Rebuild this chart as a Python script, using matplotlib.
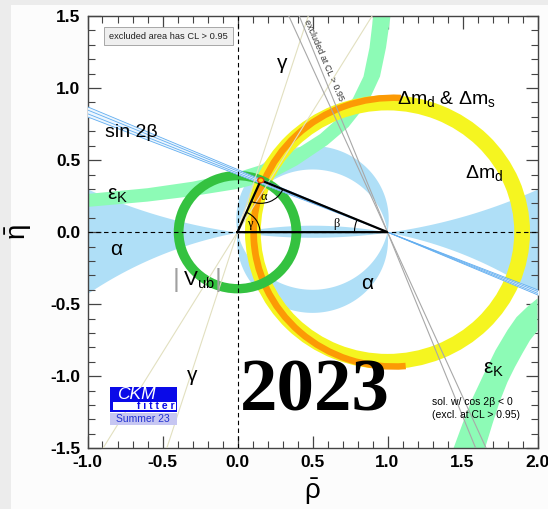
import numpy as np
import matplotlib.pyplot as plt
from matplotlib.patches import Wedge, Polygon, Arc, Rectangle, Ellipse
from matplotlib.ticker import MultipleLocator, FormatStrFormatter

plt.rcParams['font.family'] = ['Liberation Sans', 'DejaVu Sans']
plt.rcParams['mathtext.fontset'] = 'custom'
plt.rcParams['mathtext.rm'] = 'Liberation Sans'
plt.rcParams['mathtext.it'] = 'Liberation Sans:italic'
plt.rcParams['mathtext.bf'] = 'Liberation Sans:bold'
plt.rcParams['axes.unicode_minus'] = False

# fitted apex of the unitarity triangle
apex = (0.155, 0.36)

# |Vub| ring around the origin (inner, outer radius)
vub_radii = (0.36, 0.425)
# Delta m_d ring, Delta m_d & Delta m_s ring (centre, radii, angular span)
dmd_center, dmd_radii = (1.0, 0.0), (0.845, 0.95)
dms_center, dms_radii, dms_span = (1.04, 0.0), (0.91, 0.955), (87, 275)

# alpha: circles through (0,0) and (1,0) with centre (0.5, yc)
alpha_far_yc = (3.483, -2.565)    # near-flat solutions (wedges + thin lens)
alpha_up_yc = (0.09, -0.07)       # upper arc band (outer, inner)
alpha_low_yc = (-0.057, 0.1125)   # lower arc band (outer, inner)

# slopes of the lines through (1,0) and (0,0)
sin2b_slopes = [0.400, 0.411, 0.424, 0.435]
cos2b_slopes = [2.28, 2.55]
gamma_slopes = [1.672, 3.18]

# epsilon_K band, upper-left branch
epsk_lo_rho = [-1.00, -0.60, -0.30, 0.00, 0.20, 0.40, 0.60, 0.74, 0.87, 0.95, 0.99, 1.02]
epsk_lo_eta = [0.175, 0.212, 0.25, 0.30, 0.355, 0.465, 0.605, 0.73, 0.90, 1.08, 1.28, 1.50]
epsk_hi_rho = [-1.00, -0.60, -0.30, 0.00, 0.20, 0.40, 0.55, 0.68, 0.77, 0.84, 0.88, 0.905]
epsk_hi_eta = [0.265, 0.305, 0.35, 0.415, 0.48, 0.58, 0.68, 0.80, 0.93, 1.08, 1.28, 1.50]
# epsilon_K band, lower-right branch
epsk2_a_rho = [1.44, 1.50, 1.56, 1.64, 1.72, 1.80, 1.86, 1.93, 2.00]
epsk2_a_eta = [-1.50, -1.33, -1.167, -0.99, -0.82, -0.68, -0.59, -0.52, -0.46]
epsk2_b_rho = [1.65, 1.70, 1.75, 1.80, 1.85, 1.90, 1.95, 2.00]
epsk2_b_eta = [-1.50, -1.33, -1.17, -1.04, -0.935, -0.84, -0.75, -0.685]

c_alpha = '#afdff7'
c_epsk = '#8dfbb6'
c_vub = '#34c240'
c_dmd = '#f5f520'
c_dms = '#fc9a05'
c_s2b = '#62aef0'


def circ_arc(yc, upper, n=200):
    # arc of the circle through (0,0) and (1,0) centred at (0.5, yc)
    r = np.hypot(0.5, yc)
    t0 = np.arctan2(-yc, 0.5)
    if upper:
        t = np.linspace(t0, np.pi - t0, n)
    else:
        t = np.linspace(np.pi - t0, 2 * np.pi + t0, n)
    return 0.5 + r * np.cos(t), yc + r * np.sin(t)


fig = plt.figure(figsize=(5.48, 5.09), dpi=100, facecolor='#ececec')
fig.add_artist(Rectangle((11 / 548, 0), 1, 1 - 5 / 509, transform=fig.transFigure,
                         fc='#fcfcfc', ec='none', zorder=-10))
ax = fig.add_axes([87.5 / 548, 1 - 448.3 / 509, 450 / 548, 432.3 / 509])

# alpha
rho = np.concatenate([np.linspace(-1.05, 0, 200), np.linspace(0, 1, 200)[1:],
                      np.linspace(1, 2.05, 200)[1:]])
yu, yl = alpha_far_yc
eta_u = yu - np.sqrt(yu ** 2 + 0.25 - (rho - 0.5) ** 2)
eta_l = yl + np.sqrt(yl ** 2 + 0.25 - (rho - 0.5) ** 2)
ax.fill_between(rho, eta_l, eta_u, color=c_alpha, lw=0, zorder=1)
for (yo, yi), up in [(alpha_up_yc, True), (alpha_low_yc, False)]:
    xo, eo = circ_arc(yo, up)
    xi, ei = circ_arc(yi, up)
    ax.add_patch(Polygon(np.column_stack([np.r_[xo, xi[::-1]], np.r_[eo, ei[::-1]]]),
                         closed=True, fc=c_alpha, ec='none', zorder=1))

# epsilon_K
ax.add_patch(Polygon(np.column_stack([epsk_lo_rho + epsk_hi_rho[::-1],
                                      epsk_lo_eta + epsk_hi_eta[::-1]]),
                     closed=True, fc=c_epsk, ec='none', zorder=2))
ax.add_patch(Polygon(np.column_stack([epsk2_a_rho + epsk2_b_rho[::-1],
                                      epsk2_a_eta + epsk2_b_eta[::-1]]),
                     closed=True, fc=c_epsk, ec='none', zorder=2))

# Delta m_d, Delta m_s
ax.add_patch(Wedge(dmd_center, dmd_radii[1], 0, 360, width=dmd_radii[1] - dmd_radii[0],
                   fc=c_dmd, ec='none', zorder=3))
ax.add_patch(Wedge(dms_center, dms_radii[1], dms_span[0], dms_span[1],
                   width=dms_radii[1] - dms_radii[0], fc=c_dms, ec='none', zorder=4))

# |Vub|
ax.add_patch(Wedge((0, 0), vub_radii[1], 0, 360, width=vub_radii[1] - vub_radii[0],
                   fc=c_vub, ec='none', zorder=5))

# sin 2beta
xs = np.array([-1.05, 2.05])
ax.fill_between(xs, -sin2b_slopes[0] * (xs - 1), -sin2b_slopes[-1] * (xs - 1),
                color='#edf6fe', lw=0, zorder=6)
for s in sin2b_slopes:
    ax.plot(xs, -s * (xs - 1), color=c_s2b, lw=0.6, zorder=6)

# gamma and the excluded cos 2beta < 0 solution
for s in gamma_slopes:
    ax.plot(xs, s * xs, color='#e2e0c0', lw=0.8, zorder=6)
for s in cos2b_slopes:
    ax.plot(xs, -s * (xs - 1), color='#a8a8a8', lw=0.8, zorder=6)

ax.axvline(0, color='k', ls='--', lw=0.8, dashes=(4, 3), zorder=7)
ax.axhline(0, color='k', ls='--', lw=0.8, dashes=(4, 3), zorder=7)

# unitarity triangle
tri_x = [0, 1, apex[0], 0]
tri_y = [0, 0, apex[1], 0]
ax.plot(tri_x, tri_y, color='k', lw=1.6, zorder=8, solid_joinstyle='miter')
ax.add_patch(Ellipse(apex, 0.04, 0.035, fc='#ffd000', ec='#e8400a', lw=1, zorder=8.5))
a_o = np.degrees(np.arctan2(-apex[1], -apex[0]))
a_b = np.degrees(np.arctan2(-apex[1], 1 - apex[0]))
ax.add_patch(Arc(apex, 0.32, 0.32, theta1=a_o, theta2=a_b, color='k', lw=0.8, zorder=8))
ax.add_patch(Arc((1, 0), 0.44, 0.44, theta1=np.degrees(np.arctan2(apex[1], apex[0] - 1)),
                 theta2=180, color='k', lw=0.8, zorder=8))
ax.add_patch(Arc((0, 0), 0.30, 0.30, theta1=0,
                 theta2=np.degrees(np.arctan2(apex[1], apex[0])), color='k', lw=0.8, zorder=8))
ax.text(0.175, 0.245, 'α', family='Liberation Serif', fontsize=9, ha='center', va='center', zorder=9)
ax.text(0.66, 0.055, 'β', family='Liberation Serif', fontsize=9, ha='center', va='center', zorder=9)
ax.text(0.085, 0.055, 'γ', family='Liberation Serif', fontsize=9, ha='center', va='center', zorder=9)

# constraint labels
tk = dict(zorder=9)
ax.text(-0.71, 0.694, 'sin 2β', fontsize=14, ha='center', va='center', **tk)
ax.text(-0.87, 0.222, 'ε$_{\\mathrm{K}}$', fontsize=15, ha='left', va='baseline', **tk)
ax.text(-0.81, -0.12, 'α', fontsize=15, ha='center', va='center', **tk)
ax.text(-0.41, -0.335, '|', fontsize=19, color='#a0a0a0', ha='center', va='center', **tk)
ax.text(-0.13, -0.335, '|', fontsize=19, color='#a0a0a0', ha='center', va='center', **tk)
ax.text(-0.365, -0.37, 'V$_{\\mathrm{ub}}$', fontsize=15, ha='left', va='baseline', **tk)
ax.text(-0.303, -0.993, 'γ', fontsize=15, ha='center', va='center', **tk)
ax.text(0.297, 1.167, 'γ', fontsize=15, ha='center', va='center', **tk)
ax.text(1.063, 0.889, 'Δm$_{\\mathrm{d}}$ & Δm$_{\\mathrm{s}}$', fontsize=14,
        ha='left', va='baseline', **tk)
ax.text(1.517, 0.375, 'Δm$_{\\mathrm{d}}$', fontsize=14, ha='left', va='baseline', **tk)
ax.text(0.867, -0.354, 'α', fontsize=15, ha='center', va='center', **tk)
ax.text(1.637, -0.979, 'ε$_{\\mathrm{K}}$', fontsize=15, ha='left', va='baseline', **tk)
ax.text(1.297, -1.18, 'sol. w/ cos 2β < 0', fontsize=7.5, ha='left', va='center', **tk)
ax.text(1.297, -1.27, '(excl. at CL > 0.95)', fontsize=7.5, ha='left', va='center', **tk)
ax.text(0.575, 1.19, 'excluded at CL > 0.95', fontsize=6.5, color='#333333', rotation=-66.5,
        rotation_mode='anchor', ha='center', va='center', **tk)
ax.text(-0.46, 1.36, 'excluded area has CL > 0.95', fontsize=6.7, color='#222222',
        ha='center', va='center', zorder=9,
        bbox=dict(boxstyle='square,pad=0.5', fc='#efefef', ec='#9a9a9a', lw=0.6))
ax.text(0.517, -1.11, '2023', family='Liberation Serif', fontweight='bold', fontsize=54,
        ha='center', va='center', zorder=10)

# CKMfitter logo
ax.add_patch(Rectangle((-0.85, -1.248), 0.445, 0.174, fc='#0a0ae8', ec='none', zorder=9))
ax.add_patch(Rectangle((-0.828, -1.232), 0.416, 0.05, fc='white', ec='none', zorder=9))
ax.add_patch(Rectangle((-0.85, -1.340), 0.445, 0.082, fc='#c6c6f2', ec='none', zorder=9))
ax.text(-0.80, -1.127, 'CKM', fontsize=12.5, style='italic', color='white',
        ha='left', va='center', zorder=10)
ax.text(-0.42, -1.209, 'f i t t e r', fontsize=7.5, fontweight='bold', color='#0a0ae8',
        ha='right', va='center', zorder=10)
ax.text(-0.628, -1.30, 'Summer 23', fontsize=7.5, color='#2030d0',
        ha='center', va='center', zorder=10)

ax.set_xlim(-1, 2)
ax.set_ylim(-1.5, 1.5)
for axis in (ax.xaxis, ax.yaxis):
    axis.set_major_locator(MultipleLocator(0.5))
    axis.set_minor_locator(MultipleLocator(0.1))
    axis.set_major_formatter(FormatStrFormatter('%.1f'))
ax.tick_params(which='both', direction='in', top=True, right=True, color='#444444')
ax.tick_params(which='major', length=9, width=0.9, labelsize=12.5)
ax.tick_params(which='minor', length=5, width=0.8)
ax.tick_params(axis='x', pad=5)
ax.tick_params(axis='y', pad=5)
for lbl in ax.get_xticklabels() + ax.get_yticklabels():
    lbl.set_fontweight('bold')
for sp in ax.spines.values():
    sp.set_color('#444444')
    sp.set_linewidth(1.0)

ax.set_xlabel('$\\bar{\\mathrm{\\rho}}$', fontsize=20, va='center')
ax.set_ylabel('$\\bar{\\mathrm{\\eta}}$', fontsize=20, va='center')
ax.xaxis.set_label_coords(0.5, -0.101)
ax.yaxis.set_label_coords(-0.152, 0.5)

fig.savefig('out.png', dpi=100, facecolor=fig.get_facecolor())
